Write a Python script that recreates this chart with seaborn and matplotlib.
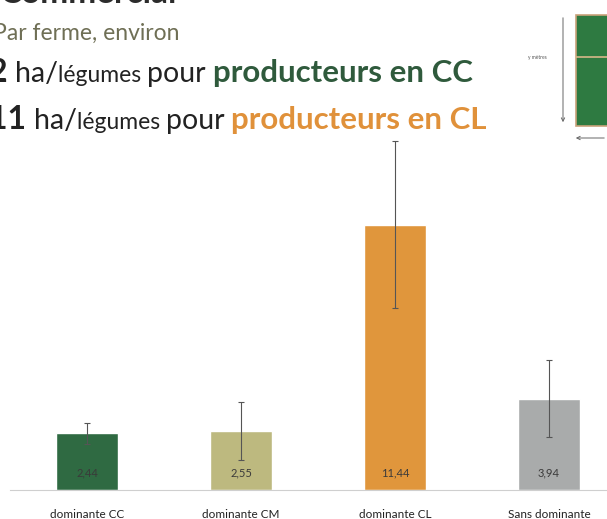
import matplotlib
matplotlib.use("Agg")
import matplotlib.pyplot as plt
import seaborn as sns
from matplotlib.patches import Rectangle, FancyArrowPatch

categories = ["dominante CC", "dominante CM", "dominante CL", "Sans dominante"]
surfaces = [2.44, 2.55, 11.44, 3.94]
errors = [0.47, 1.25, 3.6, 1.65]
labels = ["2,44", "2,55", "11,44", "3,94"]
colors = ["#2f6a42", "#bdb97f", "#e0963c", "#a9abab"]

sns.set_style("white")
plt.rcParams["font.family"] = ["Lato", "DejaVu Sans"]

fig = plt.figure(figsize=(6.07, 5.19), dpi=100)
fig.patch.set_facecolor("white")
ax = fig.add_axes([10 / 607, 29 / 519, 597 / 607, 360 / 519])

sns.barplot(x=categories, y=surfaces, hue=categories, palette=colors,
            legend=False, width=0.4, ax=ax, saturation=1)
ax.errorbar(range(len(categories)), surfaces, yerr=errors, fmt="none",
            ecolor="#555555", elinewidth=0.8, capsize=2, capthick=0.8)
for i, lab in enumerate(labels):
    ax.text(i, 0.72, lab, ha="center", va="center", fontsize=8, color="#3a3a3a")

ax.set_xlim(-0.5, 3.377)
ax.set_ylim(0, 15.52)
ax.set_yticks([])
sns.despine(ax=ax, left=True)
ax.spines["bottom"].set_color("#cfcfcf")
ax.tick_params(axis="x", length=0, labelsize=8.5, colors="#222222", pad=14)
ax.set_xlabel("")
ax.set_ylabel("")

# header text
fig.text(0.0, 1.012, "Commercial", fontsize=24, fontweight="bold", color="#2c2c2c",
         ha="left", va="center")
fig.text(-0.012, 1 - 33 / 519, "Par ferme, environ", fontsize=16.5, color="#6f6f55",
         ha="left", va="center")

def line(y, parts):
    fig.canvas.draw()
    r = fig.canvas.get_renderer()
    x = -11 / 607
    for txt, size, weight, col in parts:
        t = fig.text(x, y, txt, fontsize=size, fontweight=weight, color=col,
                     ha="left", va="baseline")
        bb = t.get_window_extent(renderer=r)
        x += bb.width / fig.bbox.width

line(1 - 82 / 519, [("2 ", 23, "bold", "#222222"), ("ha/", 20.5, "normal", "#222222"),
                    ("légumes ", 16.5, "normal", "#222222"), ("pour ", 20.5, "normal", "#222222"),
                    ("producteurs en CC", 22.5, "bold", "#2f5a3c")])
line(1 - 129 / 519, [("11 ", 23, "bold", "#222222"), ("ha/", 20.5, "normal", "#222222"),
                     ("légumes ", 16.5, "normal", "#222222"), ("pour ", 20.5, "normal", "#222222"),
                     ("producteurs en CL", 22.5, "bold", "#e0913a")])

# small diagram on the right
fig.patches.append(Rectangle((576 / 607, 1 - 126 / 519), 40 / 607, 111 / 519,
                             transform=fig.transFigure, facecolor="#2e7a41",
                             edgecolor="#c9a27a", linewidth=1.2))
fig.lines.append(plt.Line2D([576 / 607, 1], [1 - 57 / 519, 1 - 57 / 519],
                            transform=fig.transFigure, color="#d7b88a", linewidth=1.2))
fig.patches.append(FancyArrowPatch((563 / 607, 1 - 15 / 519), (563 / 607, 1 - 125 / 519),
                                   transform=fig.transFigure, arrowstyle="->",
                                   mutation_scale=6, color="#666666", linewidth=0.7))
fig.patches.append(FancyArrowPatch((607 / 607, 1 - 138 / 519), (573 / 607, 1 - 138 / 519),
                                   transform=fig.transFigure, arrowstyle="->",
                                   mutation_scale=6, color="#666666", linewidth=0.7))
fig.text(537 / 607, 1 - 57 / 519, "y mètres", fontsize=3.5, color="#555555",
         ha="center", va="center")

fig.savefig("out.png", dpi=100)
